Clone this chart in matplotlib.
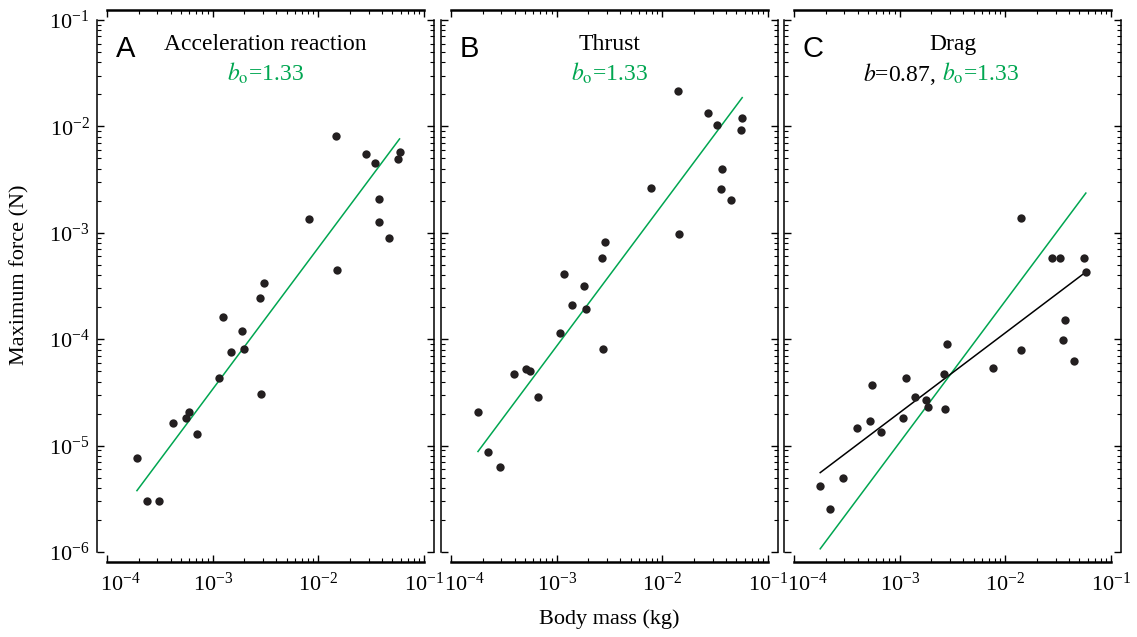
import numpy as np
import matplotlib
matplotlib.use("Agg")
import matplotlib.pyplot as plt
from matplotlib.ticker import LogLocator, NullFormatter
from matplotlib.transforms import ScaledTranslation

plt.rcParams["font.family"] = ["Liberation Serif", "DejaVu Serif"]
plt.rcParams["mathtext.fontset"] = "stix"

GREEN = "#00a651"
DOT = "#231f20"

# --- data (body mass kg, max force N) ---------------------------------------
mass_acc = [0.0146, 0.0282, 0.0341, 0.0587, 0.0566, 0.0377, 0.0372, 0.0462,
            0.00820, 0.0149, 0.00305, 0.00280, 0.00125, 0.00189, 0.00149,
            0.00200, 0.00114, 0.00286, 0.000421, 0.000555, 0.000597,
            0.000710, 0.000192, 0.000239, 0.000313]
force_acc = [0.00807, 0.00553, 0.00450, 0.00574, 0.00491, 0.00207, 0.00126,
             0.000887, 0.00135, 0.000445, 0.000335, 0.000244, 0.000161,
             0.000119, 7.59e-5, 8.09e-5, 4.35e-5, 3.03e-5, 1.64e-5, 1.80e-5,
             2.07e-5, 1.29e-5, 7.69e-6, 3.03e-6, 3.03e-6]

mass_thr = [0.0141, 0.0272, 0.0329, 0.0570, 0.0555, 0.0366, 0.0356, 0.0449,
            0.00785, 0.0144, 0.00288, 0.00267, 0.00118, 0.00180, 0.00141,
            0.00189, 0.00108, 0.00272, 0.000394, 0.000516, 0.000562,
            0.000665, 0.000180, 0.000224, 0.000292]
force_thr = [0.0214, 0.0133, 0.0104, 0.0120, 0.00931, 0.00398, 0.00260,
             0.00205, 0.00262, 0.000982, 0.000820, 0.000583, 0.000407,
             0.000316, 0.000209, 0.000191, 0.000115, 8.15e-5, 4.68e-5,
             5.28e-5, 5.06e-5, 2.86e-5, 2.06e-5, 8.65e-6, 6.25e-6]

mass_drag = [0.0141, 0.0274, 0.0330, 0.0561, 0.0578, 0.0364, 0.0353, 0.0446,
             0.0142, 0.00771, 0.00283, 0.00263, 0.00116, 0.000546, 0.00139,
             0.00177, 0.00187, 0.00267, 0.00107, 0.000520, 0.000392,
             0.000661, 0.000289, 0.000177, 0.000221]
force_drag = [0.00138, 0.000579, 0.000579, 0.000579, 0.000432, 0.000152,
              9.82e-5, 6.19e-5, 7.96e-5, 5.32e-5, 9.02e-5, 4.74e-5, 4.32e-5,
              3.69e-5, 2.84e-5, 2.70e-5, 2.32e-5, 2.21e-5, 1.82e-5, 1.71e-5,
              1.46e-5, 1.33e-5, 4.92e-6, 4.17e-6, 2.55e-6]

# power-law lines as drawn: log10(F) = slope * log10(M) + intercept
iso_slope = 1.33
iso_intercepts = [-0.48, -0.075, -0.98]
drag_slope = 0.75
drag_intercept = -2.44

titles = ["Acceleration reaction", "Thrust", "Drag"]
letters = ["A", "B", "C"]

W, H = 1137, 637
lefts = [107, 451, 794]
XMIN, XMAX = 1e-4, 1e-1


def fit_line(ax, mass, slope, intercept, color):
    lx = np.log10([min(mass), max(mass)])
    ax.plot(10 ** lx, 10 ** (slope * lx + intercept), color=color, lw=1.1,
            zorder=2)


fig = plt.figure(figsize=(W / 100, H / 100), dpi=100, facecolor="white")
data = [(mass_acc, force_acc), (mass_thr, force_thr), (mass_drag, force_drag)]
axes = []

for i, (mass, force) in enumerate(data):
    ax = fig.add_axes([lefts[i] / W, 85 / H, 317 / W, 532 / H])
    axes.append(ax)
    ax.set_xscale("log")
    ax.set_yscale("log")
    ax.set_xlim(XMIN, XMAX)
    ax.set_ylim(1e-6, 1e-1)

    for side in ["left", "right", "top", "bottom"]:
        ax.spines[side].set_position(("outward", 7.5))
    ax.spines["top"].set_linewidth(1.8)
    ax.spines["bottom"].set_linewidth(1.8)
    ax.spines["left"].set_linewidth(1.1)
    ax.spines["right"].set_linewidth(1.1)

    for axis in (ax.xaxis, ax.yaxis):
        axis.set_major_locator(LogLocator(base=10, numticks=10))
        axis.set_minor_locator(LogLocator(base=10, subs=np.arange(2, 10),
                                          numticks=10))
        axis.set_minor_formatter(NullFormatter())
    ax.tick_params(which="both", direction="in", top=True, right=True,
                   labelsize=16)
    ax.tick_params(axis="x", pad=7)
    ax.tick_params(axis="y", pad=5)
    ax.tick_params(which="major", length=5, width=1)
    ax.tick_params(which="minor", length=3, width=0.8)
    if i > 0:
        ax.tick_params(labelleft=False)

    fit_line(ax, mass, iso_slope, iso_intercepts[i], GREEN)
    if i == 2:
        fit_line(ax, mass, drag_slope, drag_intercept, "black")
    ax.plot(mass, force, "o", ms=6, color=DOT, mec="none", zorder=3)

    ax.text(0.027, 0.931, letters[i], transform=ax.transAxes, fontsize=21,
            family="Liberation Sans", ha="left", va="baseline")
    ax.text(0.5, 0.944, titles[i], transform=ax.transAxes, fontsize=17,
            ha="center", va="baseline")
    if i < 2:
        ax.text(0.5, 0.885, r"$b_{\rm o}$=1.33", transform=ax.transAxes,
                fontsize=17, color=GREEN, ha="center", va="baseline")
    else:
        ax.text(0.449, 0.885, r"$b$=0.87,", transform=ax.transAxes,
                fontsize=17, color="black", ha="right", va="baseline")
        ax.text(0.468, 0.885, r"$b_{\rm o}$=1.33", transform=ax.transAxes,
                fontsize=17, color=GREEN, ha="left", va="baseline")

fig.text(609 / W, 1 - 619 / H, "Body mass (kg)", ha="center", va="center",
         fontsize=16)
fig.text(20 / W, 1 - 275 / H, "Maximum force (N)", rotation=90, ha="center",
         va="center", fontsize=16)

# first x label of each panel hangs to the right of its tick
fig.canvas.draw()
shift = ScaledTranslation(-0.07, 0, fig.dpi_scale_trans)
for ax in axes:
    for tick in ax.xaxis.get_major_ticks():
        if np.isclose(tick.get_loc(), XMIN):
            tick.label1.set_horizontalalignment("left")
            tick.label1.set_transform(tick.label1.get_transform() + shift)

fig.savefig("out.png", dpi=100)
